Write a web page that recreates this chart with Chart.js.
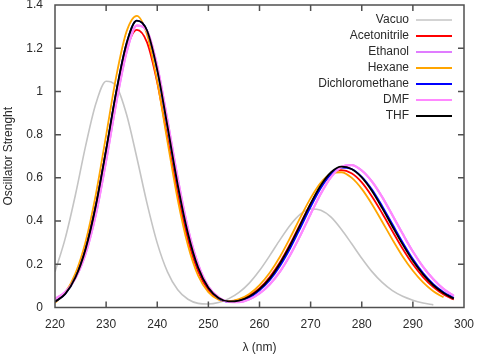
<!DOCTYPE html>
<html>
<head>
<meta charset="utf-8">
<script src="https://cdn.jsdelivr.net/npm/chart.js@4/dist/chart.umd.min.js"></script>
<style>
  body { margin: 0; background: #fff; }
  canvas { display: block; }
</style>
</head>
<body>
<canvas id="espectroChart" width="477" height="355"></canvas>
<script>
// comprimentos de onda (nm)
const wavelengths = [220,222,224,226,228,230,232,234,236,238,240,242,244,246,248,250,252,254,256,258,
                     260,262,264,266,268,270,272,274,276,278,280,282,284,286,288,290,292,294,296,298];

// forças do oscilador
const vacuo = [0.165,0.320,0.522,0.749,0.944,1.047,1.024,0.893,0.694,0.482,0.298,0.165,0.082,0.038,0.019,0.016,0.023,0.041,0.070,0.113,
               0.171,0.240,0.313,0.381,0.432,0.456,0.450,0.418,0.362,0.296,0.228,0.166,0.116,0.078,0.052,0.034,0.021,0.012];
const acetonitrile = [0.027,0.066,0.144,0.278,0.478,0.729,0.990,1.196,1.285,1.227,1.041,0.785,0.525,0.314,0.166,0.081,0.039,0.028,0.035,0.055,
                      0.089,0.141,0.209,0.294,0.388,0.481,0.561,0.616,0.636,0.621,0.579,0.514,0.436,0.353,0.272,0.200,0.141,0.094,0.060,0.037];
const ethanol = [0.040,0.072,0.135,0.250,0.431,0.679,0.950,1.181,1.305,1.280,1.117,0.866,0.598,0.366,0.200,0.097,0.047,0.026,0.025,0.038,
                 0.065,0.107,0.166,0.243,0.334,0.433,0.527,0.604,0.650,0.659,0.634,0.583,0.511,0.427,0.341,0.259,0.188,0.131,0.086,0.054];
const hexane = [0.022,0.068,0.158,0.306,0.525,0.797,1.072,1.278,1.350,1.263,1.046,0.768,0.500,0.288,0.147,0.071,0.036,0.029,0.039,0.063,
                0.104,0.161,0.235,0.323,0.417,0.506,0.578,0.620,0.626,0.601,0.549,0.478,0.397,0.314,0.236,0.170,0.116,0.075,0.047];
const dichloromethane = [0.026,0.063,0.139,0.271,0.472,0.729,1.001,1.223,1.328,1.282,1.100,0.839,0.569,0.344,0.185,0.091,0.043,0.026,0.031,0.045,
                         0.079,0.126,0.192,0.274,0.369,0.466,0.553,0.617,0.647,0.641,0.605,0.546,0.469,0.385,0.301,0.224,0.159,0.108,0.071,0.044];
const dmf = [0.040,0.072,0.135,0.250,0.431,0.679,0.950,1.181,1.305,1.280,1.117,0.866,0.598,0.366,0.200,0.097,0.047,0.026,0.025,0.038,
             0.065,0.107,0.166,0.243,0.334,0.433,0.527,0.604,0.650,0.659,0.634,0.583,0.511,0.427,0.341,0.259,0.188,0.131,0.086,0.054];
const thf = [0.026,0.063,0.139,0.271,0.472,0.729,1.001,1.223,1.328,1.282,1.100,0.839,0.569,0.344,0.185,0.091,0.044,0.028,0.032,0.051,
             0.085,0.135,0.204,0.288,0.384,0.481,0.566,0.626,0.652,0.641,0.602,0.539,0.460,0.375,0.292,0.216,0.153,0.103,0.067,0.041];

const xTicks = [220,230,240,250,260,270,280,290,300];
const yTicks = [0,0.2,0.4,0.6,0.8,1,1.2,1.4];

const FONTE = { family: "'Liberation Sans', Arial, sans-serif", size: 12 };
const COR_TEXTO = '#2a2a2a';
const COR_MOLDURA = '#505050';

const series = [
    { label: 'Vacuo', data: vacuo, color: '#c4c4c4', width: 1.6 },
    { label: 'Acetonitrile', data: acetonitrile, color: '#ff0000', width: 1.8 },
    { label: 'Ethanol', data: ethanol, color: '#e07cff', width: 2.0 },
    { label: 'Hexane', data: hexane, color: '#ffa500', width: 1.8 },
    { label: 'Dichloromethane', data: dichloromethane, color: '#0000ff', width: 1.8 },
    { label: 'DMF', data: dmf, color: '#ff88ff', width: 2.2 },
    { label: 'THF', data: thf, color: '#000000', width: 1.8 }
];

// zera o espaço extra que o Chart.js reserva para os rótulos das pontas
function semPadding(s) {
    s.paddingTop = 0;
    s.paddingBottom = 0;
    s.paddingLeft = 0;
    s.paddingRight = 0;
}

// moldura com marcas para dentro nos quatro lados + legenda à direita
const molduraLegendaPlugin = {
    id: 'molduraLegenda',
    afterDraw(chart) {
        const ctx = chart.ctx;
        const a = chart.chartArea;
        const sx = chart.scales.x, sy = chart.scales.y;
        const len = 6;

        ctx.save();
        ctx.strokeStyle = COR_MOLDURA;
        ctx.lineWidth = 1.5;
        ctx.beginPath();
        ctx.rect(a.left, a.top, a.right - a.left, a.bottom - a.top);
        xTicks.forEach(v => {
            const px = sx.getPixelForValue(v);
            ctx.moveTo(px, a.bottom); ctx.lineTo(px, a.bottom - len);
            ctx.moveTo(px, a.top); ctx.lineTo(px, a.top + len);
        });
        yTicks.forEach(v => {
            const py = sy.getPixelForValue(v);
            ctx.moveTo(a.left, py); ctx.lineTo(a.left + len, py);
            ctx.moveTo(a.right, py); ctx.lineTo(a.right - len, py);
        });
        ctx.stroke();

        // legenda
        ctx.font = FONTE.size + 'px ' + FONTE.family;
        ctx.textAlign = 'right';
        ctx.textBaseline = 'middle';
        chart.data.datasets.forEach((ds, i) => {
            const y = a.top + 15 + i * 16;
            ctx.fillStyle = COR_TEXTO;
            ctx.fillText(ds.label, a.right - 55, y);
            ctx.strokeStyle = ds.borderColor;
            ctx.lineWidth = ds.borderWidth;
            ctx.beginPath();
            ctx.moveTo(a.right - 48, y);
            ctx.lineTo(a.right - 12, y);
            ctx.stroke();
        });
        ctx.restore();
    }
};

document.addEventListener('DOMContentLoaded', function() {
    const ctx = document.getElementById('espectroChart');

    new Chart(ctx.getContext('2d'), {
        type: 'line',
        data: {
            datasets: series.map((s, i) => ({
                label: s.label,
                data: s.data.map((v, j) => ({ x: wavelengths[j], y: v })),
                borderColor: s.color,
                backgroundColor: s.color,
                borderWidth: s.width,
                pointRadius: 0,
                cubicInterpolationMode: 'monotone',
                fill: false,
                order: series.length - i
            }))
        },
        options: {
            responsive: false,
            animation: false,
            events: [],
            layout: { padding: { top: 5, right: 13, left: 0, bottom: 0 } },
            plugins: {
                legend: { display: false },
                tooltip: { enabled: false }
            },
            scales: {
                x: {
                    type: 'linear',
                    min: 220,
                    max: 300,
                    afterBuildTicks: s => { s.ticks = xTicks.map(v => ({ value: v })); },
                    afterFit: s => { s.height = 47.5; semPadding(s); },
                    grid: { display: false, drawTicks: false },
                    border: { display: false },
                    ticks: { padding: 10, color: COR_TEXTO, font: FONTE, maxRotation: 0 },
                    title: {
                        display: true,
                        text: 'λ (nm)',
                        color: COR_TEXTO,
                        font: FONTE,
                        padding: { top: 0, bottom: 0 }
                    }
                },
                y: {
                    min: 0,
                    max: 1.4,
                    afterBuildTicks: s => { s.ticks = yTicks.map(v => ({ value: v })); },
                    afterFit: s => { s.width = 55; semPadding(s); },
                    grid: { display: false, drawTicks: false },
                    border: { display: false },
                    ticks: {
                        padding: 12,
                        color: COR_TEXTO,
                        font: FONTE,
                        callback: function(value) { return String(value); }
                    },
                    title: {
                        display: true,
                        text: 'Oscillator Strenght',
                        color: COR_TEXTO,
                        font: FONTE,
                        padding: { top: 1, bottom: 0 }
                    }
                }
            }
        },
        plugins: [molduraLegendaPlugin]
    });
});
</script>
</body>
</html>
